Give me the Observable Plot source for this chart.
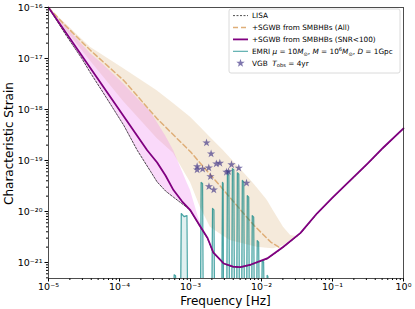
<!DOCTYPE html>
<html><head><meta charset="utf-8">
<script src="https://cdn.jsdelivr.net/npm/d3@7"></script>
<script src="https://cdn.jsdelivr.net/npm/@observablehq/plot@0.6"></script>
<style>body{margin:0;background:#fff} #chart{position:relative;width:415px;height:309px}</style>
</head><body><div id="chart"></div>
<script>
// ---- data (log10 values) ----
const lisaLogF = [-5.00,-4.75,-4.53,-4.41,-4.23,-3.94,-3.75,-3.56,-3.47,-3.35,-3.24,-3.05,-3.00,-2.86,-2.76,-2.68,-2.53,-2.40,-2.30,-2.15,-1.92,-1.70,-1.45,-1.22,-1.00,-0.75,-0.50,-0.28,0.00];
const lisaLogH = [-16.00,-16.55,-17.00,-17.28,-17.67,-18.31,-18.80,-19.22,-19.42,-19.60,-19.72,-19.92,-19.99,-20.31,-20.53,-20.81,-21.03,-21.09,-21.10,-21.05,-20.93,-20.71,-20.43,-20.05,-19.73,-19.40,-19.06,-18.75,-18.38];

const sgwbLogF = [-5.00,-4.80,-4.41,-3.94,-3.47,-3.00,-2.57,-2.30,-2.10,-1.87,-1.73,-1.70];
const sgwbLogH = [-16.00,-16.30,-16.84,-17.43,-18.18,-18.83,-19.52,-19.96,-20.28,-20.60,-20.72,-20.70];

const snrLogF = [-5.00,-3.61,-3.47,-3.35,-3.24,-3.12,-3.00,-2.86,-2.76,-2.68,-2.53,-2.40,-2.30,-2.15,-1.92,-1.70,-1.45,-1.22,-1.00,-0.75,-0.50,-0.28,0.00];
const snrLogH = [-16.00,-18.80,-19.04,-19.30,-19.58,-19.80,-19.98,-20.30,-20.52,-20.80,-21.02,-21.08,-21.09,-21.04,-20.92,-20.70,-20.42,-20.04,-19.73,-19.39,-19.05,-18.74,-18.37];

const allBandLogF = [-5.00,-4.75,-4.41,-3.94,-3.47,-3.24,-3.00,-2.86,-2.72,-2.54,-2.44,-2.15,-2.06,-1.92,-1.83,-1.69,-1.59,-1.51];
const allBandLo   = [-16.00,-16.45,-17.05,-17.85,-18.57,-18.86,-19.43,-19.92,-20.31,-20.48,-20.57,-20.67,-20.70,-20.72,-20.73,-20.67,-20.57,-20.49];
const allBandHi   = [-16.00,-16.33,-16.78,-17.20,-17.63,-17.88,-18.15,-18.35,-18.55,-18.80,-18.95,-19.39,-19.54,-19.78,-19.99,-20.31,-20.47,-20.49];

const snrBandLogF = [-5.00,-4.75,-4.41,-4.23,-3.94,-3.75,-3.56,-3.47,-3.35,-3.24,-3.05,-3.00,-2.89,-2.79];
const snrBandLo   = [-16.00,-16.55,-17.28,-17.67,-18.31,-18.80,-19.22,-19.42,-19.60,-19.72,-19.92,-19.98,-20.23,-20.45];
const snrBandHi   = [-16.00,-16.38,-16.90,-17.12,-17.50,-17.78,-18.05,-18.25,-18.52,-18.80,-19.43,-19.59,-20.11,-20.45];

const emriLogF = [
 -3.24,-3.23,-3.21,-3.20,
 -3.14,-3.13,-3.09,-3.05,-3.04,
 -2.86,-2.85,-2.83,-2.82,
 -2.70,-2.69,-2.67,-2.66,
 -2.56,-2.55,-2.54,-2.535,
 -2.49,-2.48,-2.46,-2.45,
 -2.42,-2.41,-2.39,-2.38,
 -2.35,-2.34,-2.32,-2.31,
 -2.28,-2.27,-2.25,-2.24,
 -2.21,-2.20,-2.18,-2.17,
 -2.14,-2.13,-2.11,-2.10,
 -2.07,-2.06,-2.04,-2.03,
 -2.00,-1.99,-1.97,-1.96,
 -1.93,-1.92,-1.91,-1.90];
const emriLogH = [
 -22,-21.24,-21.26,-22,
 -22,-20.04,-20.10,-20.08,-22,
 -22,-19.43,-19.45,-22,
 -22,-19.94,-19.97,-22,
 -22,-19.43,-19.45,-22,
 -22,-19.20,-19.22,-22,
 -22,-19.16,-19.18,-22,
 -22,-19.24,-19.27,-22,
 -22,-19.39,-19.42,-22,
 -22,-19.69,-19.72,-22,
 -22,-20.08,-20.11,-22,
 -22,-20.57,-20.60,-22,
 -22,-20.96,-20.99,-22,
 -22,-21.25,-21.27,-22];

const vgbF = [1.68e-3,1.95e-3,1.24e-3,1.24e-3,1.48e-3,1.81e-3,2.31e-3,2.59e-3,1.91e-3,1.82e-3,2.13e-3,3.21e-3,3.43e-3,3.78e-3,4.79e-3,6.15e-3];
const vgbH = [2.22e-19,1.35e-19,7.62e-20,6.58e-20,6.81e-20,7.19e-20,8.61e-20,8.85e-20,4.85e-20,3.09e-20,2.66e-20,5.90e-20,6.08e-20,8.28e-20,7.13e-20,3.62e-20];

const xTicks = [1e-5,1e-4,1e-3,1e-2,1e-1,1];
const xTickLabels = ["10\u207B\u2075","10\u207B\u2074","10\u207B\u00B3","10\u207B\u00B2","10\u207B\u00B9","10\u2070"];
const yTicks = [1e-21,1e-20,1e-19,1e-18,1e-17,1e-16];
const yTickLabels = ["10\u207B\u00B2\u00B9","10\u207B\u00B2\u2070","10\u207B\u00B9\u2079","10\u207B\u00B9\u2078","10\u207B\u00B9\u2077","10\u207B\u00B9\u2076"];

// ---- tables ----
const pts = (lf, lh) => lf.map((v,i)=>({f:10**v, h:10**lh[i]}));
const band = (lf, lo, hi) => lf.map((v,i)=>({f:10**v, lo:10**lo[i], hi:10**hi[i]}));
const lisa = pts(lisaLogF, lisaLogH);
const sgwb = pts(sgwbLogF, sgwbLogH);
const snr = pts(snrLogF, snrLogH);
const emri = pts(emriLogF, emriLogH);
const allBand = band(allBandLogF, allBandLo, allBandHi);
const snrBand = band(snrBandLogF, snrBandLo, snrBandHi);
const vgb = vgbF.map((f,i)=>({f, h:vgbH[i]}));
const emriFloor = 1e-22;

const minor = (lo, hi) => { const out=[]; for (let e=lo; e<hi; e++) for (let k=2;k<=9;k++) out.push(k*10**e); return out; };
const xMinor = minor(-5, 0);
const yMinor = minor(-22, -16).filter(v => v > 10**-21.314);

const font = "DejaVu Sans";
const plot = Plot.plot({
  width: 415, height: 309,
  marginLeft: 48, marginRight: 12, marginTop: 7, marginBottom: 31,
  style: {fontFamily: font, background: "white", color: "black", overflow: "visible"},
  x: {type: "log", domain: [1e-5, 1]},
  y: {type: "log", domain: [10**-21.314, 1e-16]},
  marks: [
    Plot.areaY(allBand, {x: "f", y1: "lo", y2: "hi", fill: "#deb887", fillOpacity: 0.3}),
    Plot.areaY(snrBand, {x: "f", y1: "lo", y2: "hi", fill: "violet", fillOpacity: 0.3}),
    Plot.line(lisa, {x: "f", y: "h", stroke: "black", strokeWidth: 0.7, strokeDasharray: "2,1.5"}),
    Plot.line(sgwb, {x: "f", y: "h", stroke: "#dfae78", strokeWidth: 1.5, strokeDasharray: "5,3"}),
    Plot.areaY(emri, {x: "f", y1: emriFloor, y2: "h", fill: "teal", fillOpacity: 0.12, clip: true}),
    Plot.line(emri, {x: "f", y: "h", stroke: "teal", strokeOpacity: 0.7, strokeWidth: 1.2, clip: true}),
    Plot.line(snr, {x: "f", y: "h", stroke: "purple", strokeWidth: 1.8}),
    Plot.dot(vgb, {x: "f", y: "h", symbol: "star", r: 2.6, fill: "#483d8b", fillOpacity: 0.7}),
    Plot.axisX(xTicks, {tickSize: 3.5, tickPadding: 1.5, fontSize: 9.5, label: null, tickFormat: d => xTickLabels[xTicks.indexOf(d)]}),
    Plot.axisX(xMinor, {tickSize: 2, label: null, tickFormat: () => ""}),
    Plot.axisY(yTicks, {tickSize: 3.5, tickPadding: 2.5, fontSize: 9.5, label: null, tickFormat: d => yTickLabels[yTicks.indexOf(d)]}),
    Plot.axisY(yMinor, {tickSize: 2, label: null, tickFormat: () => ""}),
    Plot.frame({stroke: "#222", strokeWidth: 0.8})
  ]
});
document.getElementById("chart").appendChild(plot);

// ---- axis titles ----
const svg = d3.select(plot);
svg.append("text").attr("x", 225.5).attr("y", 304.5).attr("text-anchor", "middle")
  .attr("font-family", font).attr("font-size", 12).attr("fill", "black").text("Frequency [Hz]");
svg.append("text").attr("transform", "translate(13,143.5) rotate(-90)").attr("text-anchor", "middle")
  .attr("font-family", font).attr("font-size", 12).attr("fill", "black").text("Characteristic Strain");

// ---- legend ----
const lg = svg.append("g").attr("font-family", font).attr("font-size", 7.3).attr("fill", "black").attr("text-anchor", "start");
lg.append("rect").attr("x", 229).attr("y", 9).attr("width", 171).attr("height", 64).attr("rx", 2)
  .attr("fill", "white").attr("fill-opacity", 0.8).attr("stroke", "#d0d0d0").attr("stroke-width", 0.8);
const rowY = [15.6, 27.5, 39.4, 51.3, 63.2];
const hx0 = 233, hx1 = 248, tx = 252;
lg.append("line").attr("x1", hx0).attr("x2", hx1).attr("y1", rowY[0]).attr("y2", rowY[0]).attr("stroke", "black").attr("stroke-width", 0.7).attr("stroke-dasharray", "2,1.5");
lg.append("line").attr("x1", hx0).attr("x2", hx1).attr("y1", rowY[1]).attr("y2", rowY[1]).attr("stroke", "#dfae78").attr("stroke-width", 1.5).attr("stroke-dasharray", "5,3");
lg.append("line").attr("x1", hx0).attr("x2", hx1).attr("y1", rowY[2]).attr("y2", rowY[2]).attr("stroke", "purple").attr("stroke-width", 1.8);
lg.append("line").attr("x1", hx0).attr("x2", hx1).attr("y1", rowY[3]).attr("y2", rowY[3]).attr("stroke", "teal").attr("stroke-opacity", 0.7).attr("stroke-width", 1.1);
lg.append("path").attr("d", d3.symbol(d3.symbolStar, 22)()).attr("transform", `translate(${(hx0+hx1)/2},${rowY[4]})`).attr("fill", "#483d8b").attr("fill-opacity", 0.7);
lg.append("text").attr("x", tx).attr("y", rowY[0] + 2.6).text("LISA");
lg.append("text").attr("x", tx).attr("y", rowY[1] + 2.6).text("+SGWB from SMBHBs (All)");
lg.append("text").attr("x", tx).attr("y", rowY[2] + 2.6).text("+SGWB from SMBHBs (SNR<100)");
const t3 = lg.append("text").attr("x", tx).attr("y", rowY[3] + 2.6);
const parts3 = [["EMRI ",""],["\u03BC","i"],[" = 10",""],["M","i"],["\u2299","sub"],[", ",""],["M","i"],[" = 10",""],["6","sup"],["M","i"],["\u2299","sub"],[", ",""],["D","i"],[" = 1Gpc",""]];
function addParts(t, parts){
  let shift = 0;
  for (const [s, k] of parts) {
    const sp = t.append("tspan").text(s);
    let target = 0;
    if (k === "i") sp.attr("font-style", "italic");
    if (k === "sub") { target = 1.6; sp.attr("font-size", 5.2); }
    if (k === "sup") { target = -2.8; sp.attr("font-size", 5.2); }
    if (target !== shift) { sp.attr("dy", target - shift); shift = target; }
  }
}
addParts(t3, parts3);
const t4 = lg.append("text").attr("x", tx).attr("y", rowY[4] + 2.6);
addParts(t4, [["VGB  ",""],["T","i"],["obs","sub"],[" = 4yr",""]]);
</script></body></html>
